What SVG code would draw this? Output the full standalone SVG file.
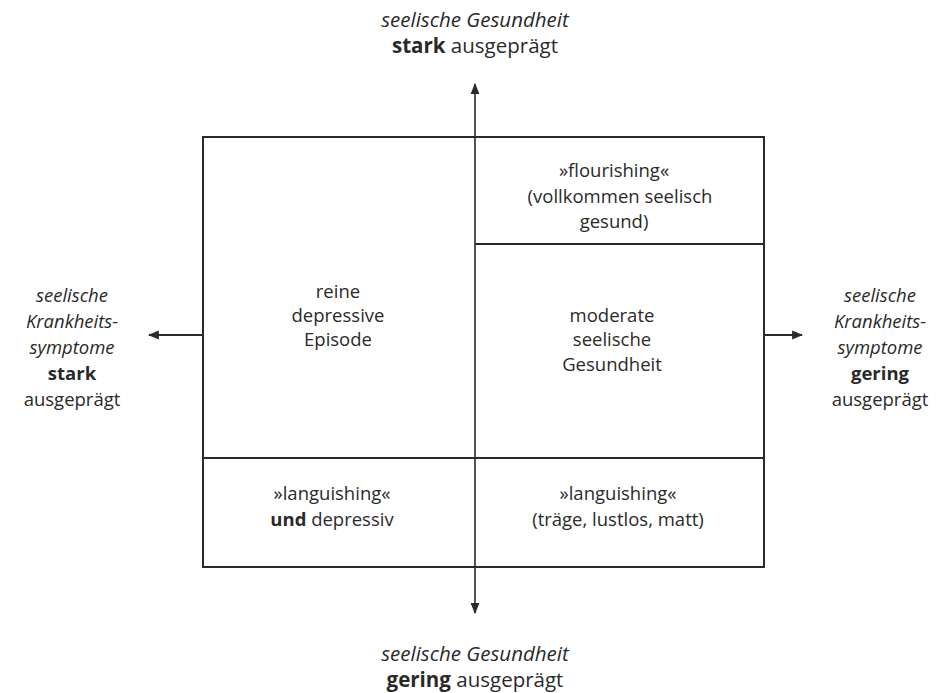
<svg xmlns="http://www.w3.org/2000/svg" width="943" height="693" viewBox="0 0 943 693">
  <style>
    text { font-family: "Open Sans", "Liberation Sans", sans-serif; font-size: 18.5px; fill: #2a2a2a; text-anchor: middle; }
    .it { font-style: italic; }
    .b { font-weight: bold; }
    .big { font-size: 20.5px; }
    .frame { fill: none; stroke: #2a2a2a; stroke-width: 2; }
    .axis { fill: none; stroke: #2a2a2a; stroke-width: 1.6; }
    .side { fill: none; stroke: #2a2a2a; stroke-width: 2.2; }
  </style>
  <defs>
    <marker id="arrow" viewBox="0 0 10 10" refX="9" refY="5" markerWidth="11" markerHeight="11" markerUnits="userSpaceOnUse" orient="auto">
      <path d="M0,1 L10,5 L0,9 Z" fill="#2a2a2a"/>
    </marker>
  </defs>
  <rect width="943" height="693" fill="#ffffff"/>

  <g id="quadrant-frame">
    <rect class="frame" x="203" y="137" width="561" height="430"/>
    <line class="frame" x1="203" y1="458" x2="764" y2="458"/>
    <line class="frame" x1="475" y1="244" x2="764" y2="244"/>
  </g>

  <g id="connectors">
    <line class="axis" x1="475" y1="458" x2="475" y2="84" marker-end="url(#arrow)"/>
    <line class="axis" x1="475" y1="458" x2="475" y2="613" marker-end="url(#arrow)"/>
    <line class="side" x1="203" y1="335" x2="149" y2="335" marker-end="url(#arrow)"/>
    <line class="side" x1="764" y1="335" x2="802" y2="335" marker-end="url(#arrow)"/>
  </g>

  <g id="axis-top">
    <text x="475" y="27" class="it big">seelische Gesundheit</text>
    <text x="475" y="53" class="big"><tspan class="b">stark</tspan> ausgeprägt</text>
  </g>
  <g id="axis-bottom">
    <text x="475" y="661" class="it big">seelische Gesundheit</text>
    <text x="475" y="687" class="big"><tspan class="b">gering</tspan> ausgeprägt</text>
  </g>
  <g id="axis-left">
    <text x="72" y="302" class="it">seelische</text>
    <text x="72" y="328" class="it">Krankheits-</text>
    <text x="72" y="354" class="it">symptome</text>
    <text x="72" y="380" class="b">stark</text>
    <text x="72" y="406">ausgeprägt</text>
  </g>
  <g id="axis-right">
    <text x="880" y="302" class="it">seelische</text>
    <text x="880" y="328" class="it">Krankheits-</text>
    <text x="880" y="354" class="it">symptome</text>
    <text x="880" y="380" class="b">gering</text>
    <text x="880" y="406">ausgeprägt</text>
  </g>

  <g id="node-depressive">
    <text x="338" y="298">reine</text>
    <text x="338" y="322">depressive</text>
    <text x="338" y="346">Episode</text>
  </g>
  <g id="node-flourishing">
    <text x="614" y="177">»flourishing«</text>
    <text x="620" y="203">(vollkommen seelisch</text>
    <text x="614" y="228">gesund)</text>
  </g>
  <g id="node-moderate">
    <text x="612" y="322">moderate</text>
    <text x="612" y="346">seelische</text>
    <text x="612" y="371">Gesundheit</text>
  </g>
  <g id="node-languishing-depressive">
    <text x="332" y="500">»languishing«</text>
    <text x="332" y="526"><tspan class="b">und</tspan> depressiv</text>
  </g>
  <g id="node-languishing">
    <text x="618" y="500">»languishing«</text>
    <text x="618" y="526">(träge, lustlos, matt)</text>
  </g>
</svg>
